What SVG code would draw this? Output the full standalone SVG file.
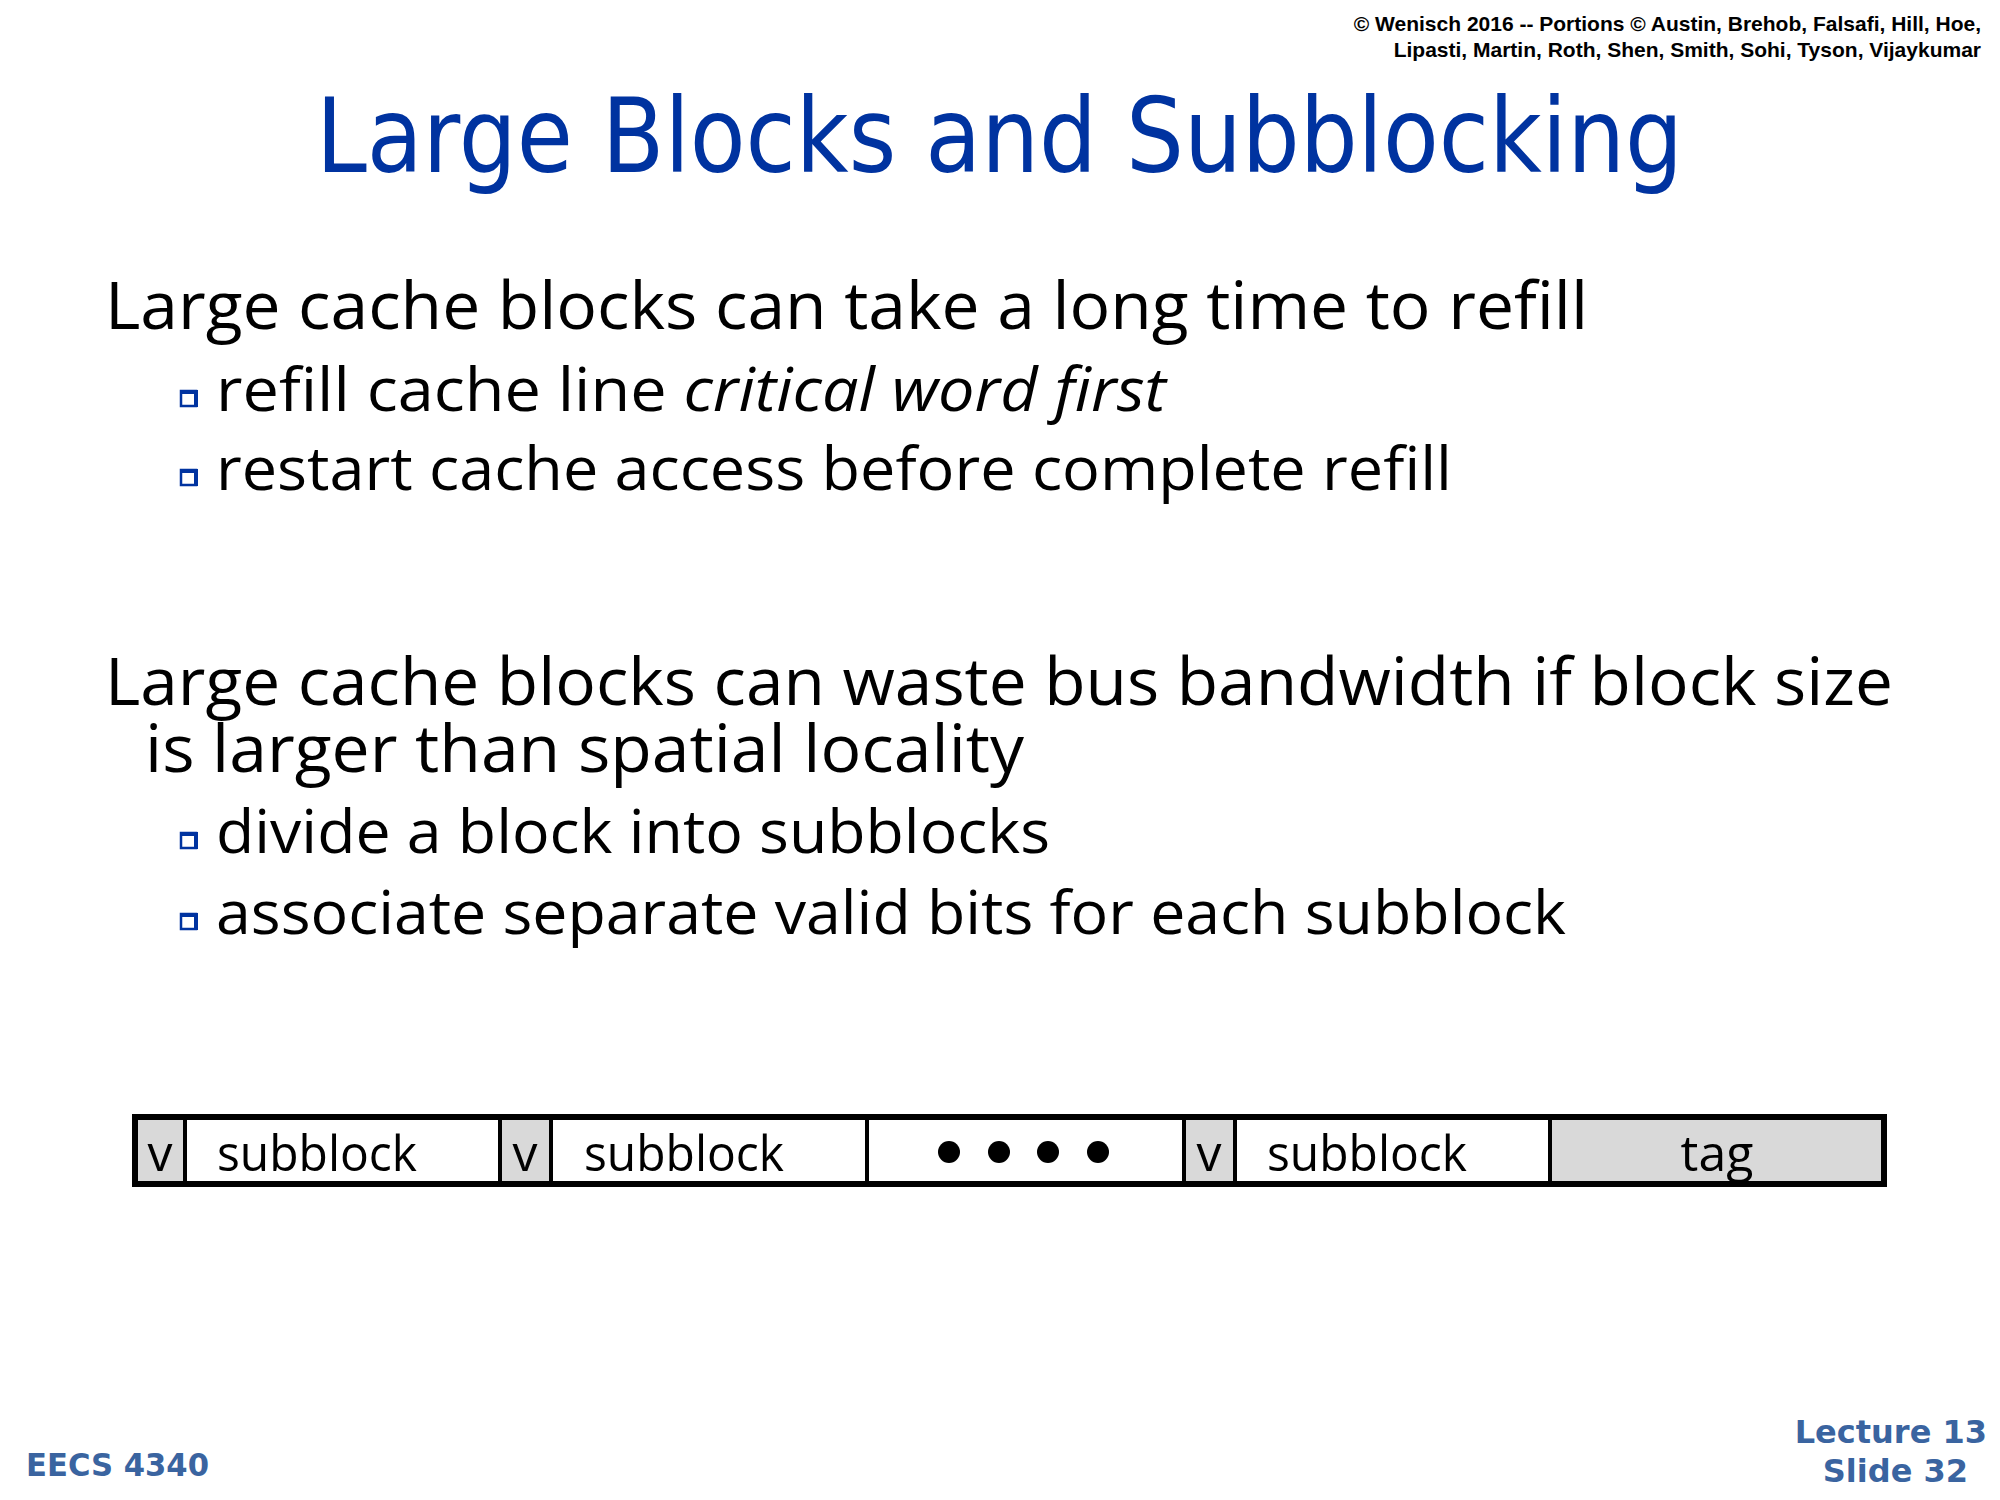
<svg xmlns="http://www.w3.org/2000/svg" width="2000" height="1500" viewBox="0 0 2000 1500">
<defs>
<g id="bul"><rect x="0" y="0" width="15" height="15" fill="none" stroke="#0033a0" stroke-width="2.5"/><rect x="0" y="-1" width="16" height="4" fill="#0033a0"/><rect x="13" y="-1" width="4" height="17" fill="#0033a0"/></g>
</defs>
<style>
.cp{font-family:"Liberation Sans",Arial,sans-serif;font-weight:bold;font-size:21px;fill:#000}
.title{font-family:"DejaVu Sans",sans-serif;font-size:104px;fill:#0033a0}
.b1{font-family:"Open Sans",sans-serif;font-size:66px;fill:#000}
.b2{font-family:"Open Sans",sans-serif;font-size:60px;fill:#000}
.cell{font-family:"Open Sans",sans-serif;font-size:50px;fill:#000}
.ft{font-family:"DejaVu Sans",sans-serif;font-weight:bold;font-size:32px;fill:#3a64a0}
</style>
<rect width="2000" height="1500" fill="#fff"/>
<text class="cp" x="1981" y="31" text-anchor="end">© Wenisch 2016 -- Portions © Austin, Brehob, Falsafi, Hill, Hoe,</text>
<text class="cp" x="1981" y="57" text-anchor="end">Lipasti, Martin, Roth, Shen, Smith, Sohi, Tyson, Vijaykumar</text>
<text class="title" x="316" y="172" textLength="1367" lengthAdjust="spacingAndGlyphs">Large Blocks and Subblocking</text>
<text class="b1" x="105" y="329" textLength="1483" lengthAdjust="spacingAndGlyphs">Large cache blocks can take a long time to refill</text>
<use href="#bul" x="181" y="391"/>
<text class="b2" x="216" y="411" textLength="950" lengthAdjust="spacingAndGlyphs">refill cache line <tspan font-style="italic">critical word first</tspan></text>
<use href="#bul" x="181" y="470"/>
<text class="b2" x="216" y="490" textLength="1236" lengthAdjust="spacingAndGlyphs">restart cache access before complete refill</text>
<text class="b1" x="105" y="705" textLength="1788" lengthAdjust="spacingAndGlyphs">Large cache blocks can waste bus bandwidth if block size</text>
<text class="b1" x="145" y="772" textLength="879" lengthAdjust="spacingAndGlyphs">is larger than spatial locality</text>
<use href="#bul" x="181" y="833"/>
<text class="b2" x="216" y="853" textLength="834" lengthAdjust="spacingAndGlyphs">divide a block into subblocks</text>
<use href="#bul" x="181" y="914"/>
<text class="b2" x="216" y="934" textLength="1350" lengthAdjust="spacingAndGlyphs">associate separate valid bits for each subblock</text>
<g id="block">
<rect x="135" y="1117" width="1749" height="67" fill="#fff"/>
<rect x="135" y="1117" width="50" height="67" fill="#d9d9d9"/>
<rect x="500" y="1117" width="51" height="67" fill="#d9d9d9"/>
<rect x="1184" y="1117" width="51" height="67" fill="#d9d9d9"/>
<rect x="1550" y="1117" width="334" height="67" fill="#d9d9d9"/>
<g stroke="#000" stroke-width="4">
<line x1="185" y1="1117" x2="185" y2="1184"/>
<line x1="500" y1="1117" x2="500" y2="1184"/>
<line x1="551" y1="1117" x2="551" y2="1184"/>
<line x1="867" y1="1117" x2="867" y2="1184"/>
<line x1="1184" y1="1117" x2="1184" y2="1184"/>
<line x1="1235" y1="1117" x2="1235" y2="1184"/>
<line x1="1550" y1="1117" x2="1550" y2="1184"/>
</g>
<rect x="135" y="1117" width="1749" height="67" fill="none" stroke="#000" stroke-width="6"/>
<text class="cell" x="160" y="1171" text-anchor="middle">v</text>
<text class="cell" x="217" y="1171" textLength="200" lengthAdjust="spacingAndGlyphs">subblock</text>
<text class="cell" x="584" y="1171" textLength="200" lengthAdjust="spacingAndGlyphs">subblock</text>
<text class="cell" x="525" y="1171" text-anchor="middle">v</text>
<text class="cell" x="1209" y="1171" text-anchor="middle">v</text>
<text class="cell" x="1267" y="1171" textLength="200" lengthAdjust="spacingAndGlyphs">subblock</text>
<text class="cell" x="1717" y="1171" text-anchor="middle">tag</text>
<circle cx="949" cy="1152" r="11"/>
<circle cx="999" cy="1152" r="11"/>
<circle cx="1048" cy="1152" r="11"/>
<circle cx="1098" cy="1152" r="11"/>
</g>
<text class="ft" x="26" y="1476" textLength="183" lengthAdjust="spacingAndGlyphs">EECS 4340</text>
<text class="ft" x="1987" y="1443" text-anchor="end">Lecture 13</text>
<text class="ft" x="1968" y="1482" text-anchor="end">Slide 32</text>
</svg>
